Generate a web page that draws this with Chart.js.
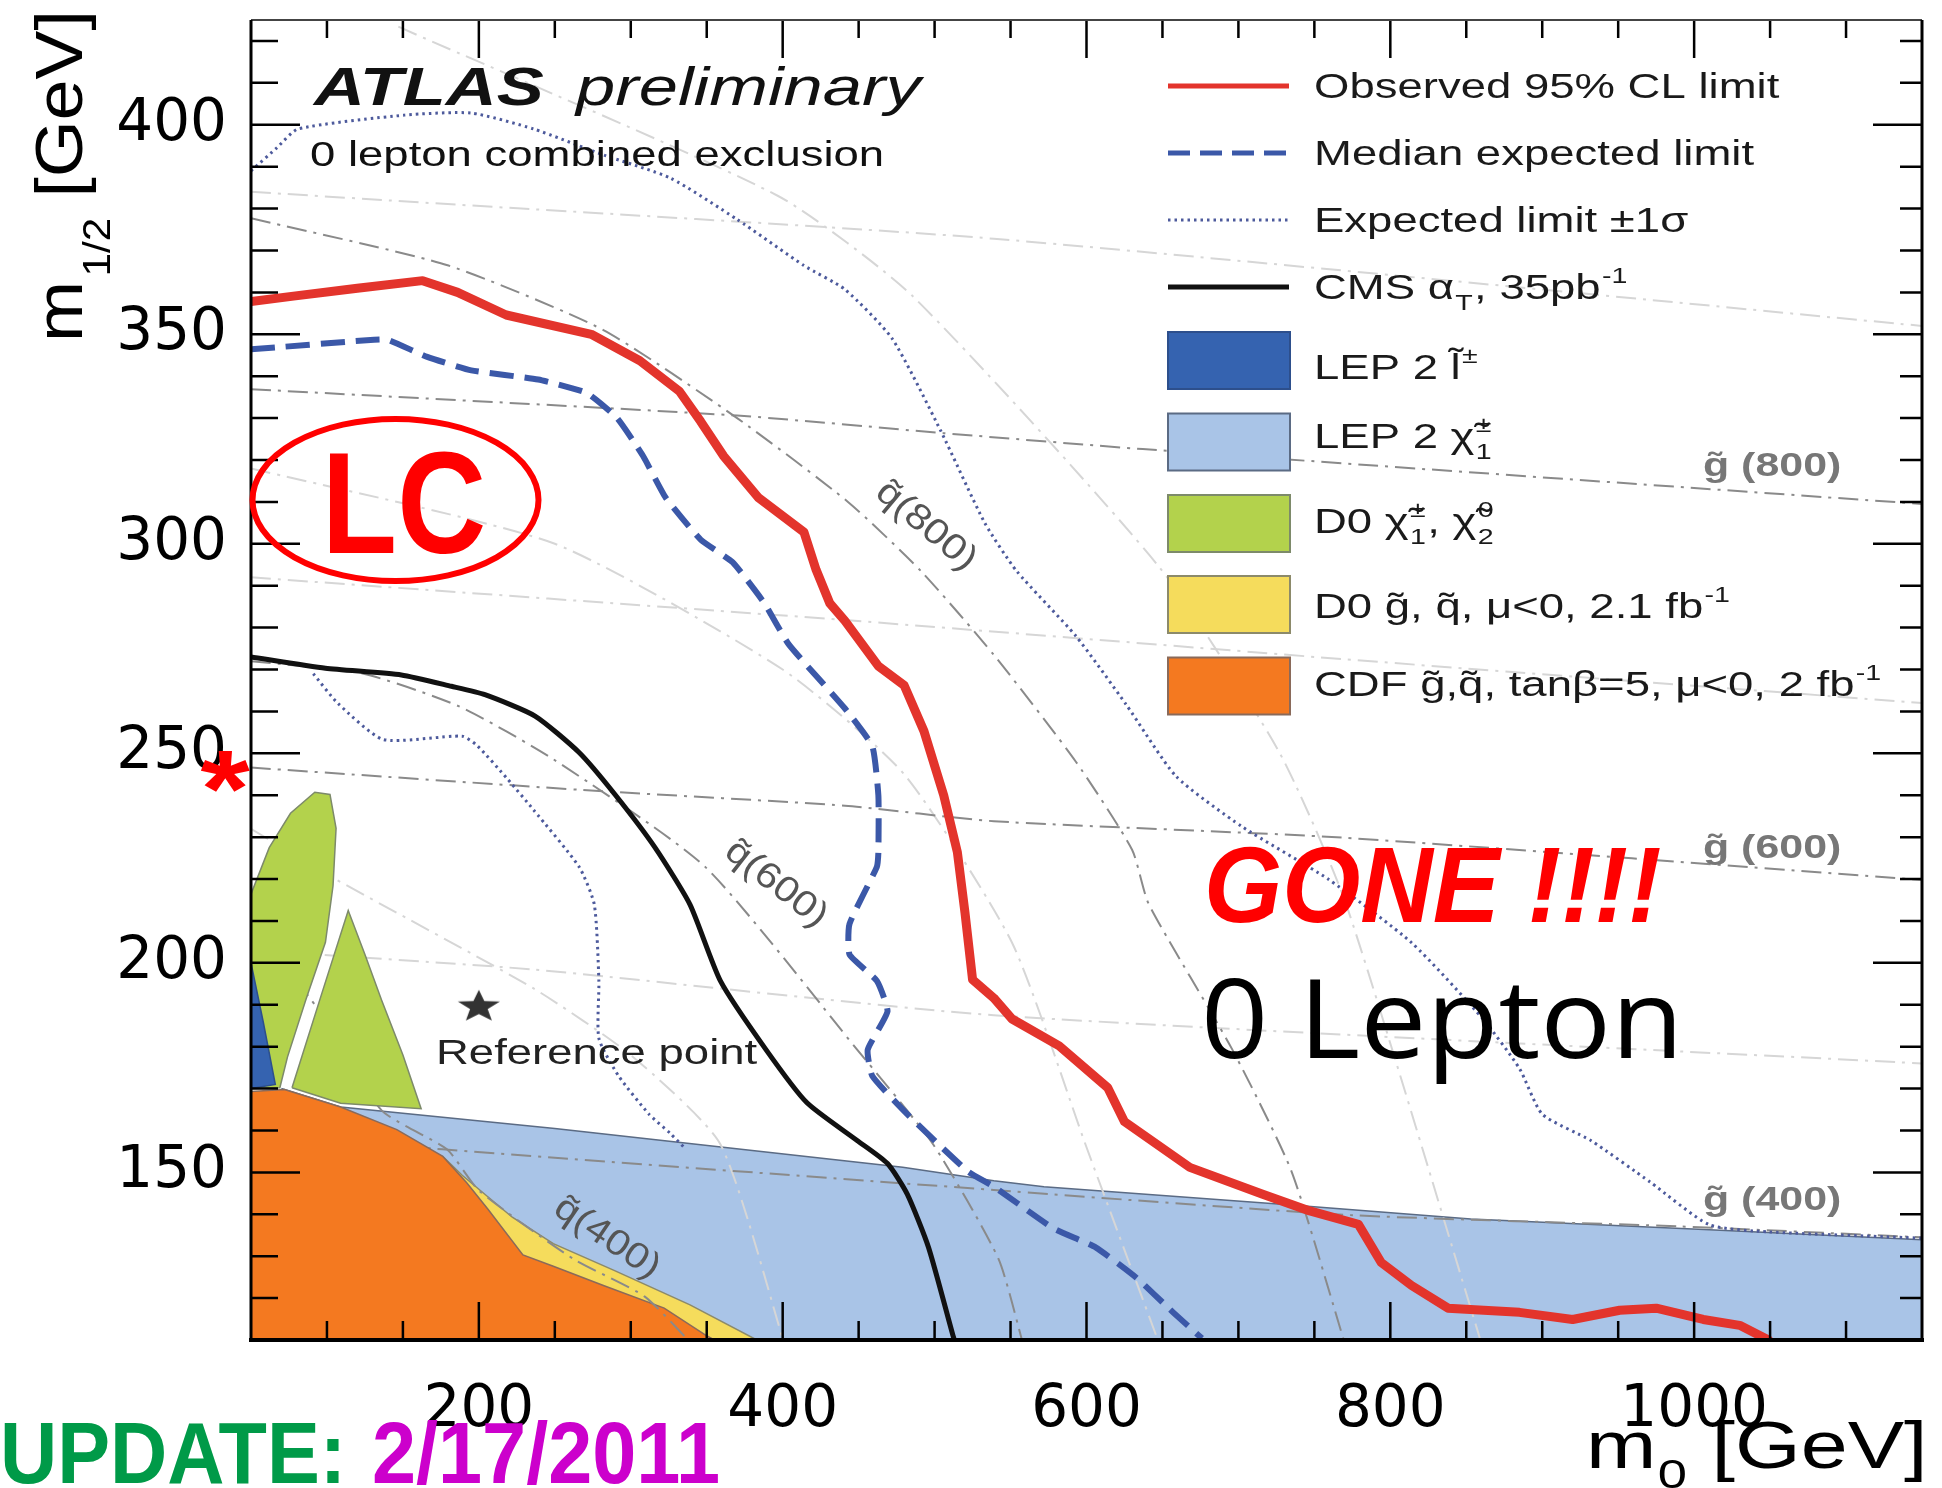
<!DOCTYPE html>
<html>
<head>
<meta charset="utf-8">
<script src="https://cdn.jsdelivr.net/npm/chart.js@4.4.1/dist/chart.umd.min.js"></script>
<style>
  html, body { margin: 0; padding: 0; background: #fff; }
</style>
</head>
<body>
<canvas id="limitChart" width="1942" height="1488"></canvas>
<script>
// axis ticks
const xTickValues = [200, 400, 600, 800, 1000];
const yTickValues = [150, 200, 250, 300, 350, 400];

// curves, [m0, m1/2] in GeV
const observedLimit = [[50,357.8],[78,359.1],[120,361],[163,362.8],[186,360],[218,354.6],[274,350],[306,343.7],[332,336.4],[346,329.2],[361,321],[384,311],[414,302.8],[422,293.8],[431,285.8],[441,281.6],[463,270.8],[480,266.2],[493,255.3],[506,240],[515,226.4],[520,212],[525,196],[539,191.6],[551,186.6],[582,180.2],[614,170.2],[625,162.1],[668,151.2],[716,144.8],[747,140.8],[779,137.6],[794,128.5],[814,123],[838,117.6],[885,116.6],[920,114.9],[951,117.1],[975,117.6],[1006,114.9],[1030,113.5],[1049,110]];
const medianExpected = [[50,346.4],[131,348.7],[140,348.7],[166,344.6],[195,341.4],[239,339.2],[271,336],[291,330],[308,321],[323,311],[346,301],[367,295.6],[388,285.8],[404,276],[441,260.7],[459,251.7],[463,239.9],[463,226.4],[462,222.9],[444,209.3],[444,202],[462,195.7],[469,188.4],[456,179.3],[459,173],[482,163.9],[522,150.2],[539,146.6],[578,136.7],[606,132.1],[633,124.8],[657,116.6],[676,110.4]];
const expectedUp = [[50,389],[67,394.5],[81,399],[151,402.3],[195,402.8],[236,399],[282,392.8],[326,387.3],[370,377.4],[414,366.4],[441,360.7],[472,349],[504,327],[533,305],[554,293.5],[593,278],[626,261.7],[659,244.5],[702,232.6],[759,220],[814,204.8],[861,186.6],[885,174.8],[900,163.9],[932,157.6],[971,147.7],[1010,137.5],[1049,135.8],[1150,134.3]];
const expectedDown = [[91,269],[107,262],[137,253.3],[189,254.1],[199,251.8],[219,243.8],[236,236.5],[266,222.9],[276,213.9],[279,195.7],[279,182],[292,173],[312,163.9],[326,159.3],[335,156]];
const cmsAlphaT = [[50,273],[99,270.3],[149,268.7],[182,266],[204,264],[237,258.9],[266,250.2],[290,240],[316,227.5],[339,213.9],[359,195.7],[389,179.3],[416,166.6],[449,157.6],[469,152.1],[482,144.8],[496,132.1],[512,111.2],[513,110]];

// excluded regions
const lep2Slepton = [[50,200],[58,186],[66,171],[50,170],[50,200]];
const lep2Chargino = [[70,170],[109,165.6],[250,160.5],[479,151.2],[539,148],[572,146.6],[735,142.2],[853,138.9],[1010,136.3],[1150,133.9]];
const d0Chargino1 = [[50,216.4],[62,227.5],[76,235.7],[92,240.7],[102,240.2],[106,232.1],[104,218.4],[99,204.9],[86,191.1],[74,177.5],[69,170.2],[50,170],[50,216.4]];
const d0Chargino2 = [[77,170.2],[96,192],[114,212.5],[125,202],[136,191.1],[150,178],[162,165.2],[109,166.5],[77,170.2]];
const d0SquarkGluino = [[176,153.9],[189,149.3],[222,139.3],[249,133],[289,126.6],[339,118.4],[383,110]];
const cdfSquarkGluino = [[50,169.3],[72,169.8],[109,165.6],[146,160.2],[176,153.9],[192,147.5],[206,141.2],[229,130.3],[249,127.6],[282,123],[322,117.6],[349,111.2],[355,110]];

// iso-mass lines
const gluino800 = [[50,336.9],[370,330.6],[506,326.4],[637,322.6],[1150,309.5]];
const gluino600 = [[50,246.6],[279,241],[441,237.5],[539,233.8],[768,229.9],[1150,219.8]];
const gluino400 = [[100,158],[176,155.5],[539,145.8],[774,139.8],[991,137.1],[1150,134.5]];
const gluino900 = [[50,384],[147,381.8],[539,372.8],[1150,352]];
const gluino700 = [[50,292],[441,281.8],[768,272.5],[1150,262]];
const gluino500 = [[50,203],[236,198.4],[539,187.5],[1150,176]];
const squark800 = [[50,377.7],[180,366.4],[282,351],[370,330],[443,310],[491,293.5],[539,273.5],[593,248],[630,227],[641,214],[696,179.3],[735,150.2],[771,108]];
const squark600 = [[50,272],[124,269],[187,261.2],[249,248.6],[349,222.9],[449,179.3],[499,156.7],[542,129.4],[559,108]];
const squark400 = [[50,210],[100,186],[136,164.8],[179,155.5],[200,145.7],[262,129.4],[309,120.4],[343,108]];
const squark900 = [[147,423.4],[397,383],[485,359.3],[648,294.4],[727,250.2],[771,213.9],[861,108]];
const squark700 = [[50,318],[250,300],[400,270],[480,245],[551,204.8],[600,156],[649,108]];
const squark500 = [[50,232],[106,219.9],[236,193.9],[300,178],[359,156.7],[402,108]];

const referencePoint = [[200,190]];

const legendLines = [
  ["Observed 95% CL limit"],
  ["Median expected limit"],
  ["Expected limit \u00b11\u03c3"],
  ["CMS \u03b1", {sub: "T"}, ", 35pb", {sup: "-1"}]
];
const legendBoxes = [
  ["LEP 2 l\u0303", {sup: "\u00b1"}],
  ["LEP 2 \u03c7\u0303", {sup: "\u00b1", sub: "1"}],
  ["D0 \u03c7\u0303", {sup: "\u00b1", sub: "1"}, ", \u03c7\u0303", {sup: "0", sub: "2"}],
  ["D0 g\u0303, q\u0303, \u03bc<0, 2.1 fb", {sup: "-1"}],
  ["CDF g\u0303,q\u0303, tan\u03b2=5, \u03bc<0, 2 fb", {sup: "-1"}]
];

const pts = (arr) => arr.map(([x, y]) => ({ x, y }));

function starCanvas(r, color) {
  const c = document.createElement("canvas");
  c.width = 2 * r * 1.3 + 2;
  c.height = 2 * r + 2;
  const g = c.getContext("2d");
  g.fillStyle = color;
  g.beginPath();
  for (let i = 0; i < 10; i++) {
    const a = -Math.PI / 2 + (i * Math.PI) / 5;
    const rr = i % 2 ? r * 0.42 : r;
    g.lineTo(c.width / 2 + rr * 1.3 * Math.cos(a), r + 3 + rr * Math.sin(a));
  }
  g.closePath();
  g.fill();
  return c;
}

function grayLine(data, dark, order) {
  return {
    data: pts(data),
    borderColor: dark ? "#8a8a8a" : "#d6d6d6",
    borderWidth: 2,
    borderDash: [20, 7, 3, 7],
    pointRadius: 0,
    fill: false,
    tension: 0.2,
    order: order
  };
}

function region(data, color, border, order, fill) {
  return {
    data: pts(data),
    borderColor: border,
    borderWidth: 1.5,
    backgroundColor: color,
    pointRadius: 0,
    fill: fill,
    tension: 0,
    order: order
  };
}

// draws text made of plain strings and {sup, sub} pieces
function richText(ctx, parts, x, y, size, sx, font, color) {
  ctx.save();
  ctx.translate(x, y);
  ctx.scale(sx, 1);
  ctx.fillStyle = color;
  ctx.textBaseline = "alphabetic";
  let cx = 0;
  parts.forEach((p) => {
    if (typeof p === "string") {
      ctx.font = size + "px " + font;
      ctx.fillText(p, cx, 0);
      cx += ctx.measureText(p).width;
    } else {
      const s = Math.round(size * 0.62);
      ctx.font = s + "px " + font;
      let w = 0;
      if (p.sup) {
        ctx.fillText(p.sup, cx + 1, -size * 0.45);
        w = ctx.measureText(p.sup).width;
      }
      if (p.sub) {
        ctx.fillText(p.sub, cx + 1, size * 0.3);
        w = Math.max(w, ctx.measureText(p.sub).width);
      }
      cx += w + 2;
    }
  });
  ctx.restore();
}

function plainText(ctx, text, x, y, font, color, sx, align) {
  ctx.save();
  ctx.translate(x, y);
  ctx.scale(sx, 1);
  ctx.font = font;
  ctx.fillStyle = color;
  ctx.textAlign = align || "left";
  ctx.textBaseline = "alphabetic";
  ctx.fillText(text, 0, 0);
  ctx.restore();
}

const frameAndTicks = {
  id: "frameAndTicks",
  afterDatasetsDraw(chart) {
    const ctx = chart.ctx;
    const { left, right, top, bottom } = chart.chartArea;
    const xs = chart.scales.x;
    const ys = chart.scales.y;
    ctx.save();
    ctx.strokeStyle = "#000";
    ctx.lineWidth = 2.5;
    ctx.beginPath();
    for (let v = 100; v < 1150; v += 50) {
      const px = xs.getPixelForValue(v);
      const major = v % 200 === 0;
      ctx.moveTo(px, bottom);
      ctx.lineTo(px, bottom - (major ? 38 : 19));
      ctx.moveTo(px, top);
      ctx.lineTo(px, top + (major ? 38 : 18));
    }
    for (let v = 110; v <= 420; v += 10) {
      const py = ys.getPixelForValue(v);
      const major = v % 50 === 0;
      ctx.moveTo(left, py);
      ctx.lineTo(left + (major ? 49 : 27), py);
      ctx.moveTo(right, py);
      ctx.lineTo(right - (major ? 49 : 22), py);
    }
    ctx.stroke();
    // frame
    ctx.lineWidth = 2;
    ctx.strokeStyle = "#444";
    ctx.beginPath();
    ctx.moveTo(left, top);
    ctx.lineTo(right, top);
    ctx.stroke();
    ctx.strokeStyle = "#000";
    ctx.lineWidth = 3;
    ctx.beginPath();
    ctx.moveTo(left, top);
    ctx.lineTo(left, bottom);
    ctx.moveTo(right, top);
    ctx.lineTo(right, bottom);
    ctx.stroke();
    ctx.lineWidth = 4;
    ctx.beginPath();
    ctx.moveTo(left - 2, bottom);
    ctx.lineTo(right + 2, bottom);
    ctx.stroke();
    ctx.restore();
  }
};

const annotations = {
  id: "annotations",
  afterDraw(chart) {
    const ctx = chart.ctx;
    const S = 1.3;
    const ds = chart.data.datasets;

    // plot title
    plainText(ctx, "ATLAS", 314, 105, "bold italic 53px 'Liberation Sans'", "#111", 1.33);
    plainText(ctx, "preliminary", 576, 105, "italic 53px 'Liberation Sans'", "#111", 1.33);
    plainText(ctx, "0 lepton combined exclusion", 310, 166, "35px 'Liberation Sans'", "#111", S);

    // legend: line samples
    const lineRows = [86, 153, 220, 287];
    const lineSets = [ds[0], ds[1], ds[2], ds[4]];
    lineRows.forEach((y, i) => {
      const d = lineSets[i];
      ctx.save();
      ctx.strokeStyle = d.borderColor;
      ctx.lineWidth = i === 2 ? 3 : 5;
      ctx.setLineDash(i === 1 ? [22, 10] : (i === 2 ? [2.5, 4] : []));
      ctx.beginPath();
      ctx.moveTo(1168, y);
      ctx.lineTo(1289, y);
      ctx.stroke();
      ctx.restore();
      richText(ctx, legendLines[i], 1314, y + 12, 35, S, "'Liberation Sans'", "#1a1a1a");
    });
    // legend: boxes
    const boxTops = [332, 413.5, 495, 576, 657.5];
    const boxBase = [379, 448, 533, 618, 696];
    const boxSets = [ds[9], ds[5], ds[10], ds[7], ds[8]];
    boxTops.forEach((t, i) => {
      const d = boxSets[i];
      ctx.save();
      ctx.fillStyle = d.backgroundColor;
      ctx.strokeStyle = d.borderColor;
      ctx.lineWidth = 2;
      ctx.fillRect(1168, t, 122, 57);
      ctx.strokeRect(1168, t, 122, 57);
      ctx.restore();
      richText(ctx, legendBoxes[i], 1314, boxBase[i], 35, S, "'Liberation Sans'", "#1a1a1a");
    });

    // gluino labels
    [["g\u0303 (800)", 476], ["g\u0303 (600)", 858], ["g\u0303 (400)", 1210]].forEach(([t, y]) => {
      plainText(ctx, t, 1703, y, "bold 33px 'Liberation Sans'", "#777", S);
    });
    // squark labels
    [["q\u0303(800)", 926, 526, 40], ["q\u0303(600)", 776, 884, 38], ["q\u0303(400)", 607, 1238, 34]].forEach(([t, x, y, a]) => {
      ctx.save();
      ctx.translate(x, y);
      ctx.rotate((a * Math.PI) / 180);
      ctx.scale(1.15, 1);
      ctx.font = "36px 'Liberation Sans'";
      ctx.fillStyle = "#555";
      ctx.textAlign = "center";
      ctx.textBaseline = "middle";
      ctx.fillText(t, 0, 0);
      ctx.restore();
    });

    plainText(ctx, "Reference point", 436, 1064, "35px 'Liberation Sans'", "#222", S);

    // axis titles
    richText(ctx, ["m", {sub: "0"}, " [GeV]"], 1586, 1468, 66, 1.28, "'Liberation Sans'", "#000");
    ctx.save();
    ctx.translate(82, 342);
    ctx.rotate(-Math.PI / 2);
    ctx.scale(1.11, 1);
    ctx.fillStyle = "#000";
    ctx.font = "66px 'Liberation Sans'";
    ctx.fillText("m", 0, 0);
    let w = ctx.measureText("m").width;
    ctx.font = "38px 'Liberation Sans'";
    ctx.fillText("1/2", w + 4, 28);
    w += ctx.measureText("1/2").width + 4;
    ctx.font = "66px 'Liberation Sans'";
    ctx.fillText(" [GeV]", w, 0);
    ctx.restore();

    // overlays added on top of the plot
    ctx.save();
    ctx.strokeStyle = "#ff0000";
    ctx.lineWidth = 6;
    ctx.beginPath();
    ctx.ellipse(395.5, 500, 143, 81, 0, 0, 2 * Math.PI);
    ctx.stroke();
    ctx.restore();
    plainText(ctx, "LC", 404, 553, "bold 145px 'Liberation Sans'", "#ff0000", 0.85, "center");
    plainText(ctx, "*", 225, 826, "bold 110px 'Liberation Sans'", "#ff0000", 1.15, "center");
    plainText(ctx, "GONE !!!!", 1204, 922, "bold italic 108px 'Liberation Sans'", "#ff0000", 0.93);
    plainText(ctx, "0 Lepton", 1201, 1058, "110px 'Open Sans'", "#000", 1.07);
    plainText(ctx, "UPDATE:", 0, 1483, "bold 88px 'Liberation Sans'", "#009a48", 0.9);
    plainText(ctx, "2/17/2011", 372, 1483, "bold 88px 'Liberation Sans'", "#cc00cc", 0.9);
  }
};

const datasets = [
  // 0 observed
  { data: pts(observedLimit), borderColor: "#e3342c", borderWidth: 9, pointRadius: 0, fill: false, tension: 0, order: 10, borderJoinStyle: "round", borderCapStyle: "round" },
  // 1 median expected
  { data: pts(medianExpected), borderColor: "#3b58a8", borderWidth: 6, borderDash: [24, 11], pointRadius: 0, fill: false, tension: 0.15, order: 11 },
  // 2 expected +1 sigma
  { data: pts(expectedUp), borderColor: "#4d5a9c", borderWidth: 3, borderDash: [2.5, 4], pointRadius: 0, fill: false, tension: 0.2, order: 12 },
  // 3 expected -1 sigma
  { data: pts(expectedDown), borderColor: "#4d5a9c", borderWidth: 3, borderDash: [2.5, 4], pointRadius: 0, fill: false, tension: 0.2, order: 12 },
  // 4 CMS alphaT
  { data: pts(cmsAlphaT), borderColor: "#111111", borderWidth: 5, pointRadius: 0, fill: false, tension: 0.2, order: 11 },
  // 5 LEP2 chargino
  region(lep2Chargino, "#a9c4e7", "#5b6b84", 100, "start"),
  // 6 D0 chargino/neutralino, second lobe
  region(d0Chargino2, "#b3d24c", "#7d8a6a", 81, "shape"),
  // 7 D0 squark gluino
  region(d0SquarkGluino, "#f5dc5c", "#8c8a6a", 88, "start"),
  // 8 CDF
  region(cdfSquarkGluino, "#f47920", "#8a6a5a", 86, "start"),
  // 9 LEP2 slepton
  region(lep2Slepton, "#3563b0", "#2d4f8c", 79, "shape"),
  // 10 D0 chargino/neutralino, first lobe
  region(d0Chargino1, "#b3d24c", "#7d8a6a", 80, "shape"),
  grayLine(gluino900, false, 95),
  grayLine(gluino700, false, 95),
  grayLine(gluino500, false, 95),
  grayLine(squark900, false, 95),
  grayLine(squark700, false, 95),
  grayLine(squark500, false, 95),
  grayLine(gluino800, true, 90),
  grayLine(gluino600, true, 90),
  grayLine(gluino400, true, 90),
  grayLine(squark800, true, 90),
  grayLine(squark600, true, 90),
  grayLine(squark400, true, 85),
  // reference point
  { data: pts(referencePoint), showLine: false, pointStyle: starCanvas(17, "#333"), pointRadius: 20, borderWidth: 0, order: 5 }
];

new Chart(document.getElementById("limitChart"), {
  type: "line",
  data: { datasets: datasets },
  options: {
    responsive: false,
    devicePixelRatio: 1,
    animation: false,
    layout: { padding: { top: 13, right: 7, bottom: 0, left: 0 } },
    plugins: { legend: { display: false }, tooltip: { enabled: false } },
    scales: {
      x: {
        type: "linear",
        min: 50,
        max: 1150,
        afterBuildTicks: (s) => { s.ticks = xTickValues.map((v) => ({ value: v })); },
        afterFit: (s) => { s.height = 148; s.paddingLeft = 0; s.paddingRight = 0; },
        ticks: { color: "#000", padding: 36, maxRotation: 0, autoSkip: false, callback: (v) => String(v), font: { family: "'DejaVu Sans'", size: 58 } },
        grid: { display: false, drawTicks: false },
        border: { display: false }
      },
      y: {
        type: "linear",
        min: 110,
        max: 425,
        afterBuildTicks: (s) => { s.ticks = yTickValues.map((v) => ({ value: v })); },
        afterFit: (s) => { s.width = 251; s.paddingTop = 0; s.paddingBottom = 0; },
        ticks: { color: "#000", padding: 24, autoSkip: false, callback: (v) => String(v), font: { family: "'DejaVu Sans'", size: 58 } },
        grid: { display: false, drawTicks: false },
        border: { display: false }
      }
    }
  },
  plugins: [frameAndTicks, annotations]
});
</script>
</body>
</html>
